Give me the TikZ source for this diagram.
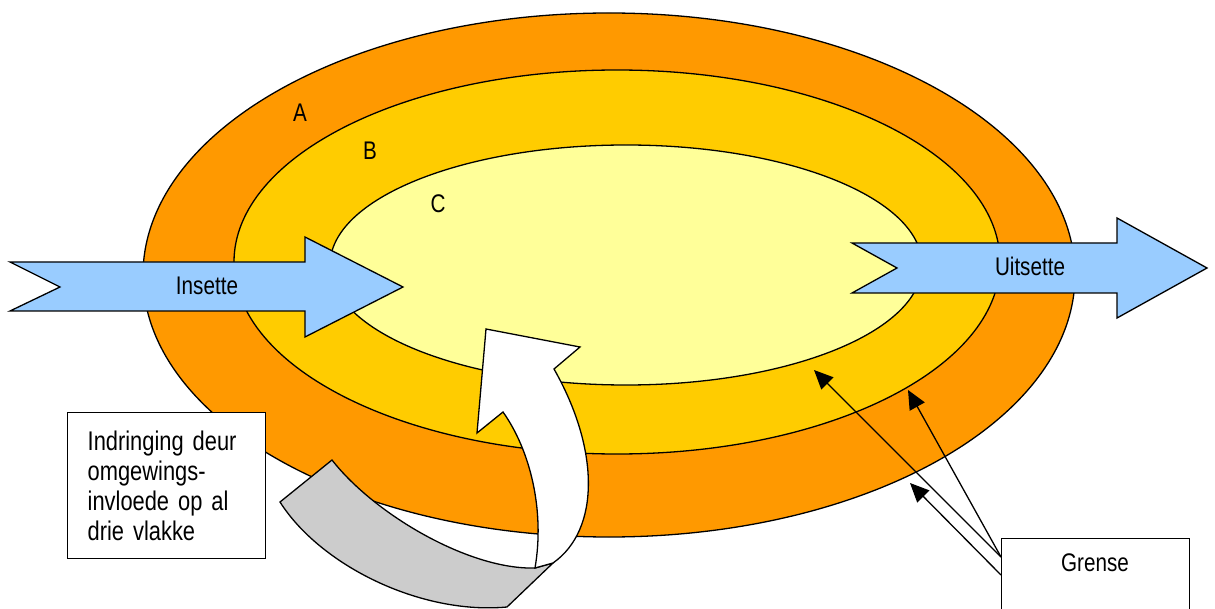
\documentclass[tikz,border=0pt]{standalone}
\usepackage{fontspec}
\setmainfont{Liberation Sans}[FakeStretch=0.81]
\usetikzlibrary{arrows.meta}
\definecolor{ringA}{HTML}{FF9900}
\definecolor{ringB}{HTML}{FFCC00}
\definecolor{ringC}{HTML}{FFFF99}
\definecolor{flowblue}{HTML}{99CCFF}
\definecolor{ribbon}{HTML}{CCCCCC}
\tikzset{
  edge/.style={draw=black, line width=1.3pt, line join=miter},
  lbl/.style={font=\fontsize{25.5}{30}\selectfont, inner sep=0pt},
  pointer/.style={draw=black, line width=1.3pt, -{Triangle[length=19pt,width=17pt]}},
  boxnode/.style={draw=black, line width=1.4pt, fill=white}
}
\begin{document}
\begin{tikzpicture}[x=1pt,y=-1pt]
\useasboundingbox (0,0) rectangle (1215,609);
% rings
\fill[white] (0,0) rectangle (1215,609);
\path[edge, fill=ringA] (609,275) ellipse [x radius=466pt, y radius=262pt];
\path[edge, fill=ringB] (617,262) ellipse [x radius=383pt, y radius=192pt];
\path[edge, fill=ringC] (626,265) ellipse [x radius=296pt, y radius=120pt];
\node[lbl] (A) at (300,113) {A};
\node[lbl] (B) at (370,151) {B};
\node[lbl] (C) at (438,204) {C};
% input / output arrows
\path[edge, fill=flowblue] (10,262) -- (305,262) -- (305,237) -- (403,287) -- (305,337) -- (305,311) -- (10,311) -- (60,287) -- cycle;
\node[lbl] (in) at (207,286) {Insette};
\path[edge, fill=flowblue] (852,243) -- (1117,243) -- (1117,218) -- (1207,268) -- (1117,318) -- (1117,293) -- (852,293) -- (897,268) -- cycle;
\node[lbl] (out) at (1030,266) {Uitsette};
% curved penetration arrow
\path[edge, fill=ribbon] (332,460) .. controls (375,515) and (470,570) .. (535,568) -- (553,563) -- (507,607)
   .. controls (420,615) and (320,565) .. (280,502) -- cycle;
\path[edge, fill=white] (486,329) -- (580,347) -- (554,369) .. controls (600,450) and (600,530) .. (553,563)
   -- (535,568) .. controls (545,510) and (530,450) .. (503,412) -- (477,433) -- cycle;
% text box
\node[boxnode, anchor=north west, minimum width=198pt, minimum height=146pt, text width=158pt,
      inner xsep=20pt, inner ysep=0pt, align=left, font=\fontsize{27}{30}\selectfont] (indr) at (67,412)
  {Indringing deur\\omgewings-\\invloede op al\\drie vlakke};
% boundary box
\node[boxnode, anchor=north west, minimum width=188pt, minimum height=90pt] (grensebox) at (1001,538) {};
\node[lbl] (grense) at (1095,563) {Grense};
\coordinate (g1) at (1001,557);
\coordinate (g2) at (1001,575);
\coordinate (t1) at (814,370);
\coordinate (t2) at (908,390);
\coordinate (t3) at (910,483);
\draw[pointer] (g1) -- (t1);
\draw[pointer] (g1) -- (t2);
\draw[pointer] (g2) -- (t3);
\end{tikzpicture}
\end{document}
